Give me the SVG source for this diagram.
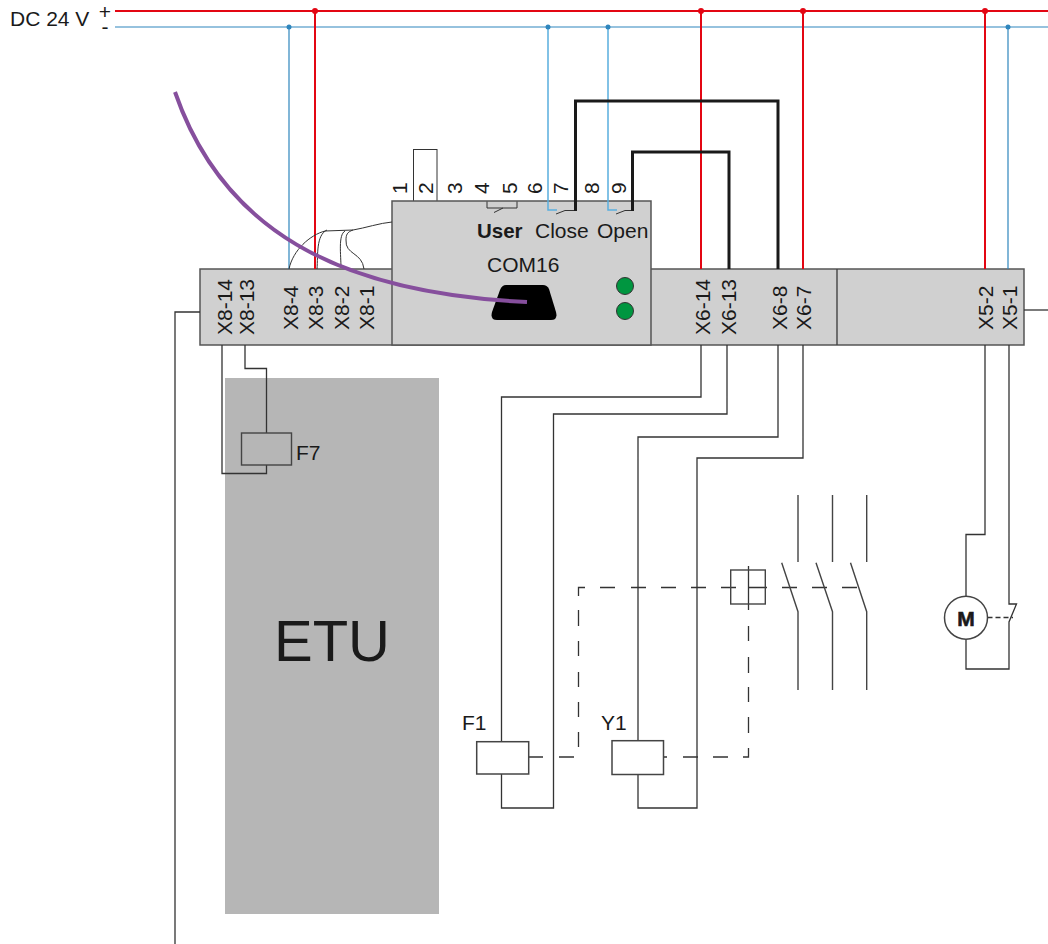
<svg xmlns="http://www.w3.org/2000/svg" width="1048" height="944" viewBox="0 0 1048 944">
<style>
text{font-family:"Liberation Sans",Arial,sans-serif;font-size:21px;fill:#1a1a1a}
.w{fill:none;stroke:#333;stroke-width:1.3}
.s{fill:none;stroke:#444;stroke-width:1.4}
.t{fill:none;stroke:#333;stroke-width:1}
.k{fill:none;stroke:#1a1a1a;stroke-width:3}
.r{fill:none;stroke:#e30613;stroke-width:2}
.b{fill:none;stroke:#2f86bd;stroke-width:1.2}
.l{fill:none;stroke:#5aaede;stroke-width:1.5}
.g{fill:#d0d0d0;stroke:#555;stroke-width:1.5}
.d{fill:#e30613}.e{fill:#2f86bd}
.m{fill:#fff;stroke:#444;stroke-width:1.5}
.n{fill:#009640;stroke:#333;stroke-width:1}
</style>
<g id="etu"><rect x="225" y="378" width="214" height="536" fill="#b6b6b6"/><text x="332" y="661" text-anchor="middle" style="font-size:58px">ETU</text></g>
<g id="terminal-bar"><rect class="g" x="200" y="269" width="824" height="76"/><line class="s" x1="837" y1="269" x2="837" y2="345"/></g>
<g id="x8-labels">
<text transform="translate(232,335) rotate(-90)">X8-14</text>
<text transform="translate(254,335) rotate(-90)">X8-13</text>
<text transform="translate(298,330) rotate(-90)">X8-4</text>
<text transform="translate(323,330) rotate(-90)">X8-3</text>
<text transform="translate(349,330) rotate(-90)">X8-2</text>
<text transform="translate(374,330) rotate(-90)">X8-1</text>
</g>
<g id="x6-labels">
<text transform="translate(710,335) rotate(-90)">X6-14</text>
<text transform="translate(736,335) rotate(-90)">X6-13</text>
<text transform="translate(787,330) rotate(-90)">X6-8</text>
<text transform="translate(811,330) rotate(-90)">X6-7</text>
</g>
<g id="x5-labels">
<text transform="translate(993,330) rotate(-90)">X5-2</text>
<text transform="translate(1017,330) rotate(-90)">X5-1</text>
</g>
<g id="com16">
<rect x="413.5" y="149.5" width="23.500" height="52" fill="#fff" stroke="#333" stroke-width="1"/>
<rect class="g" x="392" y="201" width="259" height="144"/>
<text transform="translate(407,194) rotate(-90)">1</text>
<text transform="translate(433,194) rotate(-90)">2</text>
<text transform="translate(462,194) rotate(-90)">3</text>
<text transform="translate(489,194) rotate(-90)">4</text>
<text transform="translate(517,194) rotate(-90)">5</text>
<text transform="translate(542,194) rotate(-90)">6</text>
<text transform="translate(568,194) rotate(-90)">7</text>
<text transform="translate(599,194) rotate(-90)">8</text>
<text transform="translate(626,194) rotate(-90)">9</text>
<path class="t" d="M487,201.500V208H517V201.500M494,212.500L503,208"/>
<text x="477" y="238" style="font-weight:bold;font-size:20.500px">User</text>
<text x="535" y="238">Close</text>
<text x="597" y="238">Open</text>
<text x="487" y="272">COM16</text>
<path fill="#000" d="M506,285H543Q547,285 549,289L556,312Q558,320 551,320H497Q490,320 492,312L500,290Q502,285 506,285Z"/>
<circle class="n" cx="625" cy="286" r="8.500"/>
<circle class="n" cx="625" cy="311" r="8.500"/>
</g>
<g id="connectors">
<path class="r" d="M115,11H1048"/>
<path class="b" d="M115,27H1048"/>
<path class="b" d="M289,27V269M1008,27V269"/>
<path class="r" d="M315,11V269M701,11V269M803,11V269M985,11V269"/>
<path class="l" d="M548,27V210H557M608,27V210H617"/>
<path class="t" d="M556,214L565,210.500H575M616,214L625,210.500H632"/>
<path class="k" d="M575.500,211V101H778V269"/>
<path class="k" d="M632.500,211V152H729V269"/>
<path class="t" d="M289,269C293,250 310,235 325,231L353,230C365,228 380,223 392,222"/>
<path class="t" d="M317,269C318,255 316,235 327,230"/>
<path class="t" d="M341,268C341,255 338,235 345,231"/>
<path class="t" d="M364,269C362,252 345,255 346,240C346,235 347,232 353,230"/>
<path fill="none" stroke="#864f9d" stroke-width="4" d="M175,92C222,228 335,293 527,302"/>
<path class="w" d="M200,312H175V944"/>
<path class="w" d="M1024,310H1048"/>
<path class="w" d="M222,345V473.500H266.500V465"/>
<path class="w" d="M245,345V368.500H266.500V433"/>
<path class="w" d="M701,345V397H501.500V742M501.500,774V808H553.500V414H727V345"/>
<path class="w" d="M778,345V437H638V741M638,774V808H697V458H803V345"/>
<path class="w" d="M985,345V534.500H966V596M966,639V669H1009V622L1016.500,604H1009V345"/>
<path class="w" stroke-dasharray="5 3" d="M987.500,617.500H1013"/>
<path class="w" d="M528.500,757H543M559,757H574M578.500,747V732M578.500,717V702M578.500,687V672M578.500,656V641M578.500,626V610M578.500,596V587.500H585M600,587.500H615M631,587.500H646M661,587.500H676M691,587.500H706M721,587.500H736"/>
<path class="w" d="M663.500,757H667M683,757H698M713,757H728M743,757H748.500V748M748.500,733V717M748.500,702V687M748.500,673V657M748.500,641V626M748.500,610V566"/>
<path class="w" d="M748,587.500H767M782,587.500H797M812,587.500H827M842,587.500H857"/>
</g>
<g id="F7"><rect class="s" x="241.500" y="433" width="50" height="32"/><text x="296" y="460">F7</text></g>
<g id="F1"><rect class="m" x="476.700" y="741.700" width="52" height="32.300"/><text x="462" y="730">F1</text></g>
<g id="Y1"><rect class="m" x="612" y="740.700" width="51.500" height="33.800"/><text x="601" y="730">Y1</text></g>
<g id="Q-handle"><rect class="s" x="730.700" y="570" width="34.600" height="34"/></g>
<g id="main-contacts">
<path class="s" d="M798,495V562M781.700,562.700L798,611.700V690"/>
<path class="s" d="M832.500,495V562M816,562.700L832.500,611.700V690"/>
<path class="s" d="M866.700,495V562M850.500,562.700L866.700,611.700V690"/>
</g>
<g id="motor"><circle class="m" cx="966" cy="617.700" r="21.500"/><text x="966" y="626" text-anchor="middle" stroke="#1a1a1a" stroke-width="0.6" style="font-weight:bold;font-size:21px">M</text></g>
<g id="supply">
<text x="10" y="26">DC 24 V</text>
<text text-anchor="middle"><tspan x="105" y="19">+</tspan><tspan x="105" y="34">-</tspan></text>
</g>
<g id="junctions">
<circle class="d" cx="315" cy="11" r="3"/><circle class="d" cx="701" cy="11" r="3"/><circle class="d" cx="803" cy="11" r="3"/><circle class="d" cx="985" cy="11" r="3"/>
<circle class="e" cx="289" cy="27" r="2.500"/><circle class="e" cx="548" cy="27" r="2.500"/><circle class="e" cx="608" cy="27" r="2.500"/><circle class="e" cx="1008" cy="27" r="2.500"/>
</g>
</svg>
